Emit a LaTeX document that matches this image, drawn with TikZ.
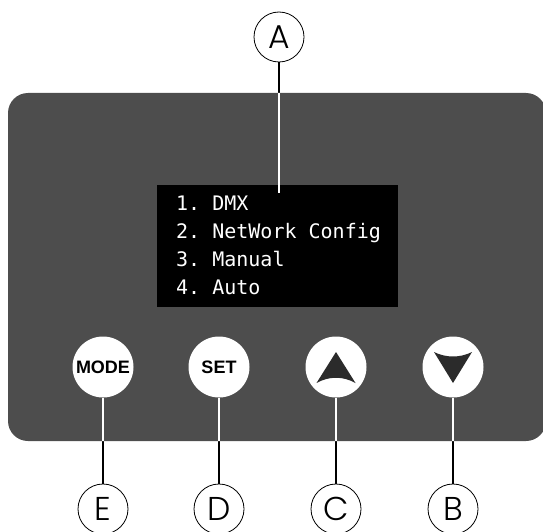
\documentclass[tikz,border=0pt]{standalone}
\usepackage{fontspec}
\usepackage{xcolor}
\newfontfamily\monofont{DejaVu Sans Mono}
\newfontfamily\keyfont{Liberation Sans}
\newfontfamily\tagfont{Poppins Light}
\definecolor{panelgray}{HTML}{4D4D4D}
\definecolor{arrowgray}{HTML}{2B2B2B}

\begin{document}
\begin{tikzpicture}[
        x=1pt, y=-1pt,
        tag/.style={draw, circle, line width=0.8pt, minimum size=50pt, inner sep=0pt,
          font=\tagfont\fontsize{33}{33}\selectfont},
        key/.style={circle, fill=white, minimum size=61pt, inner sep=0pt,
          font=\keyfont\bfseries\fontsize{18}{18}\selectfont},
        lead/.style={line width=1.6pt},
        menu/.style={anchor=base west, text=white, inner sep=0pt,
          font=\monofont\fontsize{20}{20}\selectfont},
    ]
        \useasboundingbox (0,0) rectangle (543,532);
        \fill[panelgray, rounded corners=20pt] (8,93) rectangle (546,441);

        % display
        \node[fill=black, minimum width=241pt, minimum height=122pt, inner sep=0pt] (screen) at (277.5,246) {};
        \foreach \i/\item in {1/DMX, 2/NetWork Config, 3/Manual, 4/Auto}
          \node[menu] (menu\i) at (176,182+28*\i) {\i.\ \item};
        \coordinate (dispA) at (279,193);

        % buttons
        \node[key] (mode) at (103,367) {MODE};
        \node[key] (set) at (219,367) {SET};
        \node[key] (up) at (336,367) {};
        \node[key] (down) at (453,367) {};
        \fill[arrowgray, shift={(up.center)}] (0,-15) -- (19.5,16) .. controls (7,9) and (-7,9) .. (-19.5,16) -- cycle;
        \fill[arrowgray, shift={(down.center)}] (0,16) -- (19,-15) .. controls (7,-9) and (-7,-9) .. (-19,-15) -- cycle;

        % callouts
        \node[tag] (tA) at (279,37) {A};
        \node[tag] (tE) at (103,509) {E};
        \node[tag] (tD) at (219,509) {D};
        \node[tag] (tC) at (336,509) {C};
        \node[tag] (tB) at (453,509) {B};

        \foreach \k/\t in {dispA/tA, mode/tE, set/tD, up/tC, down/tB}
          \draw[lead] (\t) -- (\k);
        \begin{scope}
          \clip[rounded corners=20pt] (8,93) rectangle (546,441);
          \foreach \k/\t in {dispA/tA, mode/tE, set/tD, up/tC, down/tB}
            \draw[lead, white] (\t) -- (\k);
        \end{scope}
    \end{tikzpicture}
\end{document}
